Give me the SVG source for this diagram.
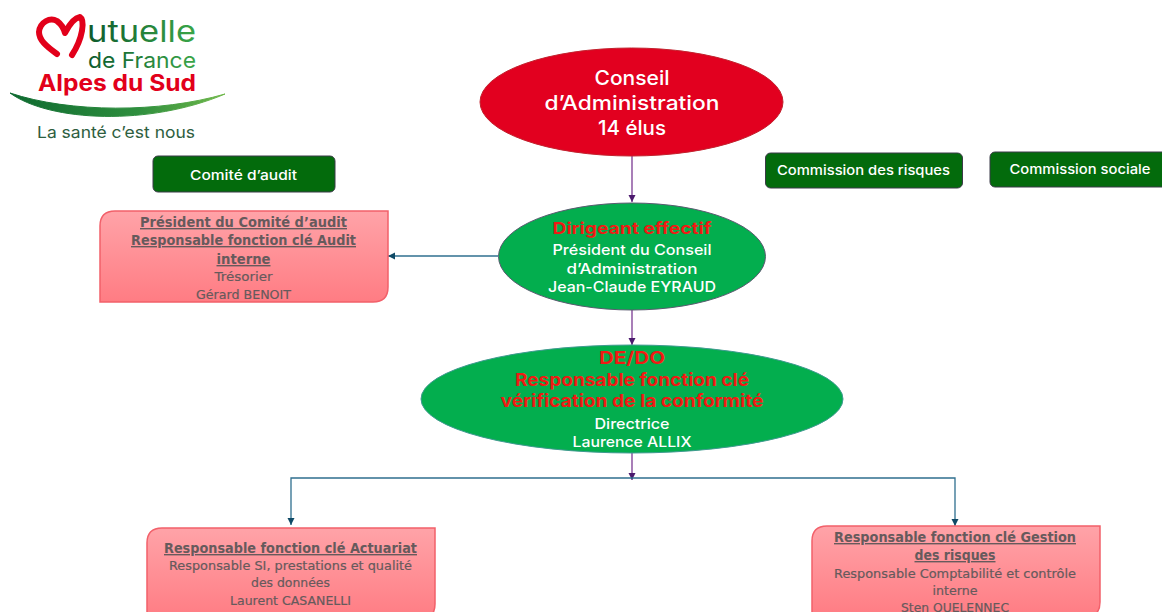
<svg xmlns="http://www.w3.org/2000/svg" width="1162" height="612" viewBox="0 0 1162 612">
<style>
.w{font-family:"Inter","Open Sans","Liberation Sans",sans-serif;fill:#fff;text-anchor:middle;font-weight:500}
.r{font-family:"Inter","Open Sans","Liberation Sans",sans-serif;fill:#f01a14;text-anchor:middle;font-weight:700}
.d{font-family:"DejaVu Sans","Noto Sans",sans-serif;fill:#665a5c;text-anchor:middle;font-size:13px;stroke:#665a5c;stroke-width:.2}
.u{font-weight:700;text-decoration:underline;font-size:14px;stroke:none}
.gb{fill:#036b0c;stroke:#3b3b48;stroke-width:1}
.rb{fill:url(#rg);stroke:#f2606a;stroke-width:1.5}
.l1{fill:none;stroke:#7a3a92;stroke-width:1.3;marker-end:url(#mp)}
.l2{fill:none;stroke:#2f6f8f;stroke-width:1.3;marker-end:url(#mb)}
.lg{font-family:"Inter","Open Sans","Liberation Sans",sans-serif;text-anchor:middle}
</style>
<defs>
<linearGradient id="rg" x1="0" y1="0" x2="0" y2="1"><stop offset="0" stop-color="#ffa3a8"/><stop offset="1" stop-color="#ff7c83"/></linearGradient>
<linearGradient id="sw" x1="0" y1="0" x2="1" y2="0"><stop offset="0" stop-color="#0e6a30"/><stop offset="0.6" stop-color="#2f8f3e"/><stop offset="1" stop-color="#6fb84a"/></linearGradient>
<linearGradient id="tg" x1="0" y1="0" x2="1" y2="0"><stop offset="0" stop-color="#0e5a2c"/><stop offset="1" stop-color="#3aa648"/></linearGradient>
<marker id="mp" markerWidth="8" markerHeight="8" refX="7" refY="3.5" orient="auto" markerUnits="userSpaceOnUse"><path d="M0 0L7 3.5L0 7Z" fill="#4c1a6e"/></marker>
<marker id="mb" markerWidth="8" markerHeight="8" refX="7" refY="3.5" orient="auto" markerUnits="userSpaceOnUse"><path d="M0 0L7 3.5L0 7Z" fill="#0f4a66"/></marker>
</defs>
<rect width="1162" height="612" fill="#fff"/>
<g id="logo">
<path d="M57 54C46 46 39 40 39 32C40 22 50 17 57 21C61 24 64 29 65 33C69 25 74 18 80 17C85 20 83 38 72 55" fill="none" stroke="#e2001a" stroke-width="6" stroke-linecap="round" stroke-linejoin="round"/>
<text class="lg" x="141.500" y="42" font-size="30" fill="url(#tg)" textLength="109" lengthAdjust="spacingAndGlyphs">utuelle</text>
<text class="lg" x="142" y="68" font-size="22" fill="url(#tg)" textLength="108" lengthAdjust="spacingAndGlyphs">de France</text>
<text class="lg" x="117" y="91" font-size="22.500" font-weight="700" fill="#e2001a" textLength="158" lengthAdjust="spacingAndGlyphs">Alpes du Sud</text>
<path d="M10 93C50 122 150 126 225 94C160 113 70 113 10 93Z" fill="url(#sw)" stroke="url(#sw)" stroke-width="1"/>
<text class="lg" x="116" y="138" font-size="16.500" fill="#2e5e40" textLength="158" lengthAdjust="spacingAndGlyphs">La santé c’est nous</text>
</g>
<g id="connectors">
<path class="l1" d="M632 156V202"/>
<path class="l1" d="M632 310V345"/>
<path class="l1" d="M632 453V480"/>
<path class="l2" d="M498 256H388"/>
<path class="l2" d="M632 478H291V525"/>
<path class="l2" d="M632 478H955V526"/>
</g>
<g id="conseil">
<ellipse cx="631.500" cy="102" rx="151.500" ry="54" fill="#e2001f" stroke="#c2222e"/>
<text class="w" x="632" y="85" font-size="20" textLength="75" lengthAdjust="spacingAndGlyphs">Conseil</text>
<text class="w" x="632" y="110" font-size="20" textLength="175" lengthAdjust="spacingAndGlyphs">d’Administration</text>
<text class="w" x="632" y="135" font-size="20" textLength="68" lengthAdjust="spacingAndGlyphs">14 élus</text>
</g>
<g id="dirigeant">
<ellipse cx="632" cy="256.500" rx="133.500" ry="53.500" fill="#03ae4e" stroke="#5a5a70"/>
<text class="r" x="632" y="234" font-size="16.500" textLength="159" lengthAdjust="spacingAndGlyphs">Dirigeant effectif</text>
<text class="w" x="632" y="255" font-size="14.500" textLength="159" lengthAdjust="spacingAndGlyphs">Président du Conseil</text>
<text class="w" x="632" y="274" font-size="14.500" textLength="131" lengthAdjust="spacingAndGlyphs">d’Administration</text>
<text class="w" x="632" y="292" font-size="14.500" textLength="168" lengthAdjust="spacingAndGlyphs">Jean-Claude EYRAUD</text>
</g>
<g id="directrice">
<ellipse cx="632" cy="399" rx="211" ry="54" fill="#03ae4e" stroke="#3f9a90"/>
<text class="r" x="632" y="364" font-size="17.500" textLength="66" lengthAdjust="spacingAndGlyphs">DE/DO</text>
<text class="r" x="632" y="386" font-size="17.500" textLength="234" lengthAdjust="spacingAndGlyphs">Responsable fonction clé</text>
<text class="r" x="632" y="407" font-size="17.500" textLength="263" lengthAdjust="spacingAndGlyphs">vérification de la conformité</text>
<text class="w" x="632" y="429" font-size="14.500" textLength="75" lengthAdjust="spacingAndGlyphs">Directrice</text>
<text class="w" x="632" y="447" font-size="14.500" textLength="119" lengthAdjust="spacingAndGlyphs">Laurence ALLIX</text>
</g>
<g id="comite-audit">
<rect class="gb" x="153" y="156" width="182" height="36" rx="5"/>
<text class="w" x="243.500" y="180" font-size="13.500" textLength="107" lengthAdjust="spacingAndGlyphs">Comité d’audit</text>
</g>
<g id="commission-risques">
<rect class="gb" x="765.500" y="153" width="197" height="35" rx="5"/>
<text class="w" x="863.500" y="175" font-size="13.500" textLength="173" lengthAdjust="spacingAndGlyphs">Commission des risques</text>
</g>
<g id="commission-sociale">
<rect class="gb" x="990" y="152" width="180" height="35" rx="5"/>
<text class="w" x="1080" y="174" font-size="13.500" textLength="141" lengthAdjust="spacingAndGlyphs">Commission sociale</text>
</g>
<g id="audit-interne">
<path class="rb" d="M115 211H388V287Q388 302 373 302H100V226Q100 211 115 211Z"/>
<text class="d u" x="243.500" y="227" textLength="207" lengthAdjust="spacingAndGlyphs">Président du Comité d’audit</text>
<text class="d u" x="243.500" y="245" textLength="225" lengthAdjust="spacingAndGlyphs">Responsable fonction clé Audit</text>
<text class="d u" x="243.500" y="264" textLength="54" lengthAdjust="spacingAndGlyphs">interne</text>
<text class="d" x="243.500" y="281" textLength="58" lengthAdjust="spacingAndGlyphs">Trésorier</text>
<text class="d" x="243.500" y="299" textLength="95" lengthAdjust="spacingAndGlyphs">Gérard BENOIT</text>
</g>
<g id="actuariat">
<path class="rb" d="M162 528H435V604Q435 619 420 619H147V543Q147 528 162 528Z"/>
<text class="d u" x="290.500" y="553" textLength="253" lengthAdjust="spacingAndGlyphs">Responsable fonction clé Actuariat</text>
<text class="d" x="290.500" y="570" textLength="243" lengthAdjust="spacingAndGlyphs">Responsable SI, prestations et qualité</text>
<text class="d" x="290.500" y="587" textLength="79" lengthAdjust="spacingAndGlyphs">des données</text>
<text class="d" x="290.500" y="605" textLength="121" lengthAdjust="spacingAndGlyphs">Laurent CASANELLI</text>
</g>
<g id="gestion-risques">
<path class="rb" d="M827 526H1100V602Q1100 617 1085 617H812V541Q812 526 827 526Z"/>
<text class="d u" x="955" y="542" textLength="242" lengthAdjust="spacingAndGlyphs">Responsable fonction clé Gestion</text>
<text class="d u" x="955" y="560" textLength="81" lengthAdjust="spacingAndGlyphs">des risques</text>
<text class="d" x="955" y="578" textLength="242" lengthAdjust="spacingAndGlyphs">Responsable Comptabilité et contrôle</text>
<text class="d" x="955" y="595" textLength="45" lengthAdjust="spacingAndGlyphs">interne</text>
<text class="d" x="955" y="612" textLength="108" lengthAdjust="spacingAndGlyphs">Sten QUELENNEC</text>
</g>
</svg>
